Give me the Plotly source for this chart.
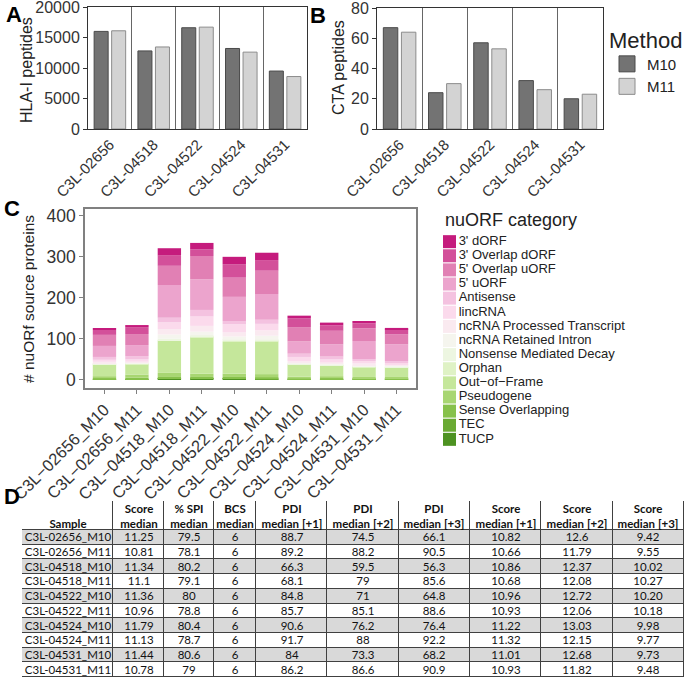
import plotly.graph_objects as go

W, H = 687, 680
FONT = "Liberation Sans, Arial, sans-serif"
TFONT = "Lato, Open Sans, sans-serif"

# --- A / B : peptides per sample and method
samples = ["C3L-02656", "C3L-04518", "C3L-04522", "C3L-04524", "C3L-04531"]
methods = ["M10", "M11"]
hla_m10 = [16000, 12800, 16600, 13200, 9500]
hla_m11 = [16100, 13450, 16700, 12600, 8600]
cta_m10 = [67, 24, 57, 32, 20]
cta_m11 = [64, 30, 53, 26, 23]

# --- C : nuORF source proteins per run (stacked, bottom -> top)
runs = [f"{s}_{m}" for s in samples for m in methods]
categories = ["TUCP", "TEC", "Sense Overlapping", "Pseudogene", "Out−of−Frame",
              "Orphan", "Nonsense Mediated Decay", "ncRNA Retained Intron",
              "ncRNA Processed Transcript", "lincRNA", "Antisense", "5' uORF",
              "5' Overlap uORF", "3' Overlap dORF", "3' dORF"]
tucp = [0, 1, 2, 2, 2, 1, 0, 1, 0, 1]
tec = [1, 0, 1, 1, 1, 1, 1, 0, 1, 0]
sense_overlap = [2, 3, 3, 3, 3, 3, 1, 2, 1, 1]
pseudogene = [5, 8, 10, 8, 8, 8, 5, 5, 4, 4]
out_of_frame = [28, 25, 78, 89, 78, 80, 29, 26, 24, 23]
orphan = [1, 1, 2, 2, 2, 2, 1, 1, 1, 1]
nmd = [1, 1, 4, 3, 3, 2, 1, 1, 1, 1]
retained_intron = [2, 2, 10, 9, 8, 10, 2, 2, 3, 2]
processed_tx = [3, 3, 13, 14, 10, 13, 5, 4, 4, 3]
lincrna = [5, 5, 17, 23, 20, 16, 10, 7, 6, 4]
antisense = [7, 8, 11, 16, 8, 10, 8, 7, 5, 5]
uorf5 = [27, 27, 80, 75, 59, 63, 30, 30, 44, 41]
overlap_uorf5 = [27, 27, 47, 57, 47, 57, 35, 33, 31, 24]
overlap_dorf3 = [12, 17, 25, 16, 33, 26, 21, 13, 12, 12]
dorf3 = [4, 5, 18, 16, 18, 18, 7, 7, 6, 4]
counts = [tucp, tec, sense_overlap, pseudogene, out_of_frame, orphan, nmd,
          retained_intron, processed_tx, lincrna, antisense, uorf5,
          overlap_uorf5, overlap_dorf3, dorf3]
cat_colors = ["#4D9221", "#6AAA33", "#87C14B", "#A8D672", "#C5E79B", "#DFF2C5",
              "#EDF6E1", "#F5F5EE", "#FAEAF0", "#FBDAEC", "#F4C2E0", "#ECA4CD",
              "#E180B4", "#D3509A", "#C51B7D"]

# --- D : table
tbl_header = [" <br><b>Sample</b>", "<b>Score<br>median</b>", "<b>% SPI<br>median</b>",
              "<b>BCS<br>median</b>", "<b>PDI<br>median [+1]</b>", "<b>PDI<br>median [+2]</b>",
              "<b>PDI<br>median [+3]</b>", "<b>Score<br>median [+1]</b>",
              "<b>Score<br>median [+2]</b>", "<b>Score<br>median [+3]</b>"]
score_med = ["11.25", "10.81", "11.34", "11.1", "11.36", "10.96", "11.79", "11.13", "11.44", "10.78"]
spi_med = ["79.5", "78.1", "80.2", "79.1", "80", "78.8", "80.4", "78.7", "80.6", "79"]
bcs_med = ["6", "6", "6", "6", "6", "6", "6", "6", "6", "6"]
pdi_1 = ["88.7", "89.2", "66.3", "68.1", "84.8", "85.7", "90.6", "91.7", "84", "86.2"]
pdi_2 = ["74.5", "88.2", "59.5", "79", "71", "85.1", "76.2", "88", "73.3", "86.6"]
pdi_3 = ["66.1", "90.5", "56.3", "85.6", "64.8", "88.6", "76.4", "92.2", "68.2", "90.9"]
score_1 = ["10.82", "10.66", "10.86", "10.68", "10.96", "10.93", "11.22", "11.32", "11.01", "10.93"]
score_2 = ["12.6", "11.79", "12.37", "12.08", "12.72", "12.06", "13.03", "12.15", "12.68", "11.82"]
score_3 = ["9.42", "9.55", "10.02", "10.27", "10.20", "10.18", "9.98", "9.77", "9.73", "9.48"]
tbl_columns = [runs, score_med, spi_med, bcs_med, pdi_1, pdi_2, pdi_3, score_1, score_2, score_3]

# table geometry (style): column widths and row heights in px
col_w = [91, 51, 50, 42, 71.3, 71.3, 71.3, 71.3, 71.3, 71.3]
head_h, row_h = 29, 14.7


def px_x(a, b):
    return [a / W, b / W]


def px_y(top, bottom):
    return [1 - bottom / H, 1 - top / H]


def edges(sizes):
    out = [0]
    for s in sizes:
        out.append(out[-1] + s)
    return out


fig = go.Figure()

fills = {"M10": "#737373", "M11": "#D3D3D3"}
lines = {"M10": "#4A4A4A", "M11": "#8C8C8C"}
bw, gap = 0.32, 0.08
for xa, ya, v10, v11 in (("x", "y", hla_m10, hla_m11), ("x2", "y2", cta_m10, cta_m11)):
    fig.add_trace(go.Bar(x=samples, y=v10, xaxis=xa, yaxis=ya, width=bw, offset=-bw - gap / 2,
                         marker=dict(color=fills["M10"], line=dict(color=lines["M10"], width=1)),
                         showlegend=False))
    fig.add_trace(go.Bar(x=samples, y=v11, xaxis=xa, yaxis=ya, width=bw, offset=gap / 2,
                         marker=dict(color=fills["M11"], line=dict(color=lines["M11"], width=1)),
                         showlegend=False))

# legend entries for Method
for m in methods:
    fig.add_trace(go.Scatter(x=[None], y=[None], mode="markers", name=m, xaxis="x2", yaxis="y2",
                             marker=dict(symbol="square", size=16, color=fills[m],
                                         line=dict(color=lines[m], width=1))))

# C stacked bars
base = [0] * len(runs)
for cat, vals, col in zip(categories, counts, cat_colors):
    fig.add_trace(go.Bar(x=runs, y=vals, base=base, xaxis="x3", yaxis="y3", width=0.72,
                         marker=dict(color=col, line=dict(width=0)), name=cat, showlegend=False))
    base = [b + v for b, v in zip(base, vals)]

# C legend (keys laid out on a hidden categorical axis)
fig.add_trace(go.Scatter(x=[0] * len(categories), y=categories, xaxis="x4", yaxis="y4",
                         mode="markers+text", text=categories, textposition="middle right",
                         textfont=dict(size=13, color="#222", family=FONT),
                         marker=dict(symbol="square", size=13, color=cat_colors),
                         cliponaxis=False, showlegend=False, hoverinfo="skip"))

# D table drawn as a heatmap of cells (dark layer underneath shows as grid lines)
xe = edges(col_w)
ye = edges([head_h] + [row_h] * len(runs))
n_rows = len(runs) + 1
shade = [[0] * len(col_w)] + [[1 if i % 2 == 0 else 0] * len(col_w) for i in range(len(runs))]
cell_text = [tbl_header] + [list(r) for r in zip(*tbl_columns)]
fig.add_trace(go.Heatmap(x=xe, y=ye, z=[[0] * len(col_w)] * n_rows, xaxis="x5", yaxis="y5",
                         colorscale=[[0, "#404040"], [1, "#404040"]], showscale=False,
                         hoverinfo="skip"))
fig.add_trace(go.Heatmap(x=xe, y=ye, z=shade, xaxis="x5", yaxis="y5", xgap=1, ygap=1,
                         zmin=0, zmax=1, colorscale=[[0, "white"], [1, "#D9D9D9"]],
                         showscale=False, text=cell_text, texttemplate="%{text}",
                         textfont=dict(family=TFONT, size=11.5, color="#111"), hoverinfo="skip"))

axis_common = dict(showline=True, mirror=True, linecolor="#333", linewidth=1, automargin=False,
                   tickfont=dict(size=16, color="#333"), zeroline=False,
                   ticklabeloverflow="allow")
xbar = dict(axis_common, type="category", tickson="boundaries", showgrid=True,
            gridcolor="#666", gridwidth=1, ticks="", tickangle=-45,
            tickfont=dict(size=15, color="#333"))
ybar = dict(axis_common, showgrid=False, ticks="outside", ticklen=4, tickcolor="#333")

fig.update_layout(
    width=W, height=H, margin=dict(l=0, r=0, t=0, b=0, autoexpand=False),
    paper_bgcolor="white", plot_bgcolor="white", barmode="overlay",
    font=dict(family=FONT, color="#222"),
    xaxis=dict(xbar, domain=px_x(88, 307), anchor="y"),
    yaxis=dict(ybar, domain=px_y(7, 129), anchor="x", range=[0, 20000], dtick=5000,
               tickformat="d"),
    xaxis2=dict(xbar, domain=px_x(377, 603), anchor="y2"),
    yaxis2=dict(ybar, domain=px_y(8, 129), anchor="x2", range=[0, 80], dtick=20),
    xaxis3=dict(axis_common, domain=px_x(85, 416), anchor="y3", type="category",
                range=[-0.6, len(runs) - 0.4], linecolor="#808080", linewidth=1.5,
                ticks="outside", ticklen=4, tickcolor="#808080", tickangle=-45,
                tickvals=runs, ticktext=[r.replace("-", "−") for r in runs],
                tickfont=dict(size=16.5, color="#333"), showgrid=False),
    yaxis3=dict(axis_common, domain=px_y(209, 388), anchor="x3", range=[-21, 417],
                tick0=0, dtick=100, linecolor="#808080", linewidth=1.5,
                ticks="outside", ticklen=4, tickcolor="#808080", showgrid=False,
                tickfont=dict(size=17.5, color="#333")),
    xaxis4=dict(domain=px_x(449.5, 687), anchor="y4", range=[0, 1], visible=False),
    yaxis4=dict(domain=px_y(234.6, 446.4), anchor="x4", type="category",
                categoryarray=categories, range=[-0.5, len(categories) - 0.5], visible=False),
    xaxis5=dict(domain=px_x(22, 684), anchor="y5", range=[0, xe[-1]], visible=False),
    yaxis5=dict(domain=px_y(501, 677), anchor="x5", range=[ye[-1], 0], visible=False),
    legend=dict(x=607 / W, y=1 - 19 / H, xanchor="left", yanchor="top",
                title=dict(text="Method", font=dict(size=22, color="#222")),
                font=dict(size=15, color="#222"), bgcolor="rgba(0,0,0,0)"),
)


def note(text, x, y, size, **kw):
    fig.add_annotation(text=text, x=x / W, y=1 - y / H, xref="paper", yref="paper",
                       showarrow=False, yanchor="middle",
                       font=dict(size=size, color=kw.pop("color", "#222"), family=FONT), **kw)


for label, x, y in (("A", 14, 14), ("B", 318, 15), ("C", 12, 208), ("D", 12, 496)):
    note(f"<b>{label}</b>", x, y, 22, xanchor="center", color="black")
note("HLA-I peptides", 27, 70, 16, xanchor="center", textangle=-90)
note("CTA peptides", 339, 68, 16, xanchor="center", textangle=-90)
note("# nuORf source proteins", 28, 299, 15.5, xanchor="center", textangle=-90)
note("nuORF category", 443, 220, 18, xanchor="left")

fig.write_html("out.html", config={"displayModeBar": False},
               post_script="document.body.style.margin = '0';")
